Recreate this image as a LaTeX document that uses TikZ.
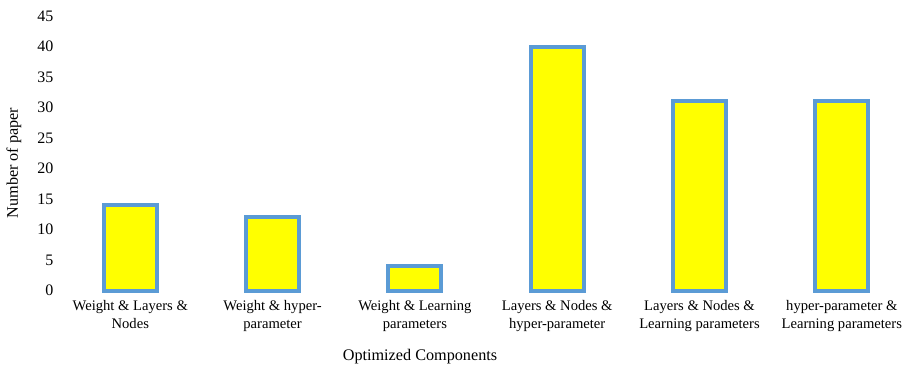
\documentclass[tikz,border=0pt]{standalone}
\usepackage{fontspec}
\setmainfont{Liberation Serif}
\definecolor{barblue}{HTML}{5B9BD5}
\definecolor{baryellow}{HTML}{FFFF00}
\begin{document}
\begin{tikzpicture}[x=1pt,y=-1pt,
  bar/.style={draw=barblue,fill=baryellow,line width=4pt},
  tick/.style={anchor=east,font=\fontsize{16}{18}\selectfont,inner sep=0pt},
  cat/.style={anchor=north,align=center,font=\fontsize{14.6}{17.5}\selectfont,inner sep=0pt},
  axtitle/.style={font=\fontsize{16.2}{18}\selectfont,inner sep=0pt}]
\useasboundingbox (0,0) rectangle (905,368);
\def\zy{290.5}
\def\u{6.1}
\foreach \v in {0,5,...,45}{
  \node[tick] (t\v) at (53.5,{\zy-\u*\v}) {\v};
}
\foreach \i/\val/\lab in {0/14/{Weight \& Layers \&\\Nodes},
                          1/12/{Weight \& hyper-\\parameter},
                          2/4/{Weight \& Learning\\parameters},
                          3/40/{Layers \& Nodes \&\\hyper-parameter},
                          4/31/{Layers \& Nodes \&\\Learning parameters},
                          5/31/{hyper-parameter \&\\Learning parameters}}{
  \pgfmathsetmacro{\cx}{130.3+142.3*\i}
  \draw[bar] ({\cx-26.5},\zy) rectangle ({\cx+26.5},{\zy-\u*\val});
  \node[cat] (c\i) at (\cx,300.5) {\lab};
}
\node[axtitle] (xt) at (420,357) {Optimized Components};
\node[axtitle,rotate=90] (yt) at (14,163) {Number of paper};
\end{tikzpicture}
\end{document}
